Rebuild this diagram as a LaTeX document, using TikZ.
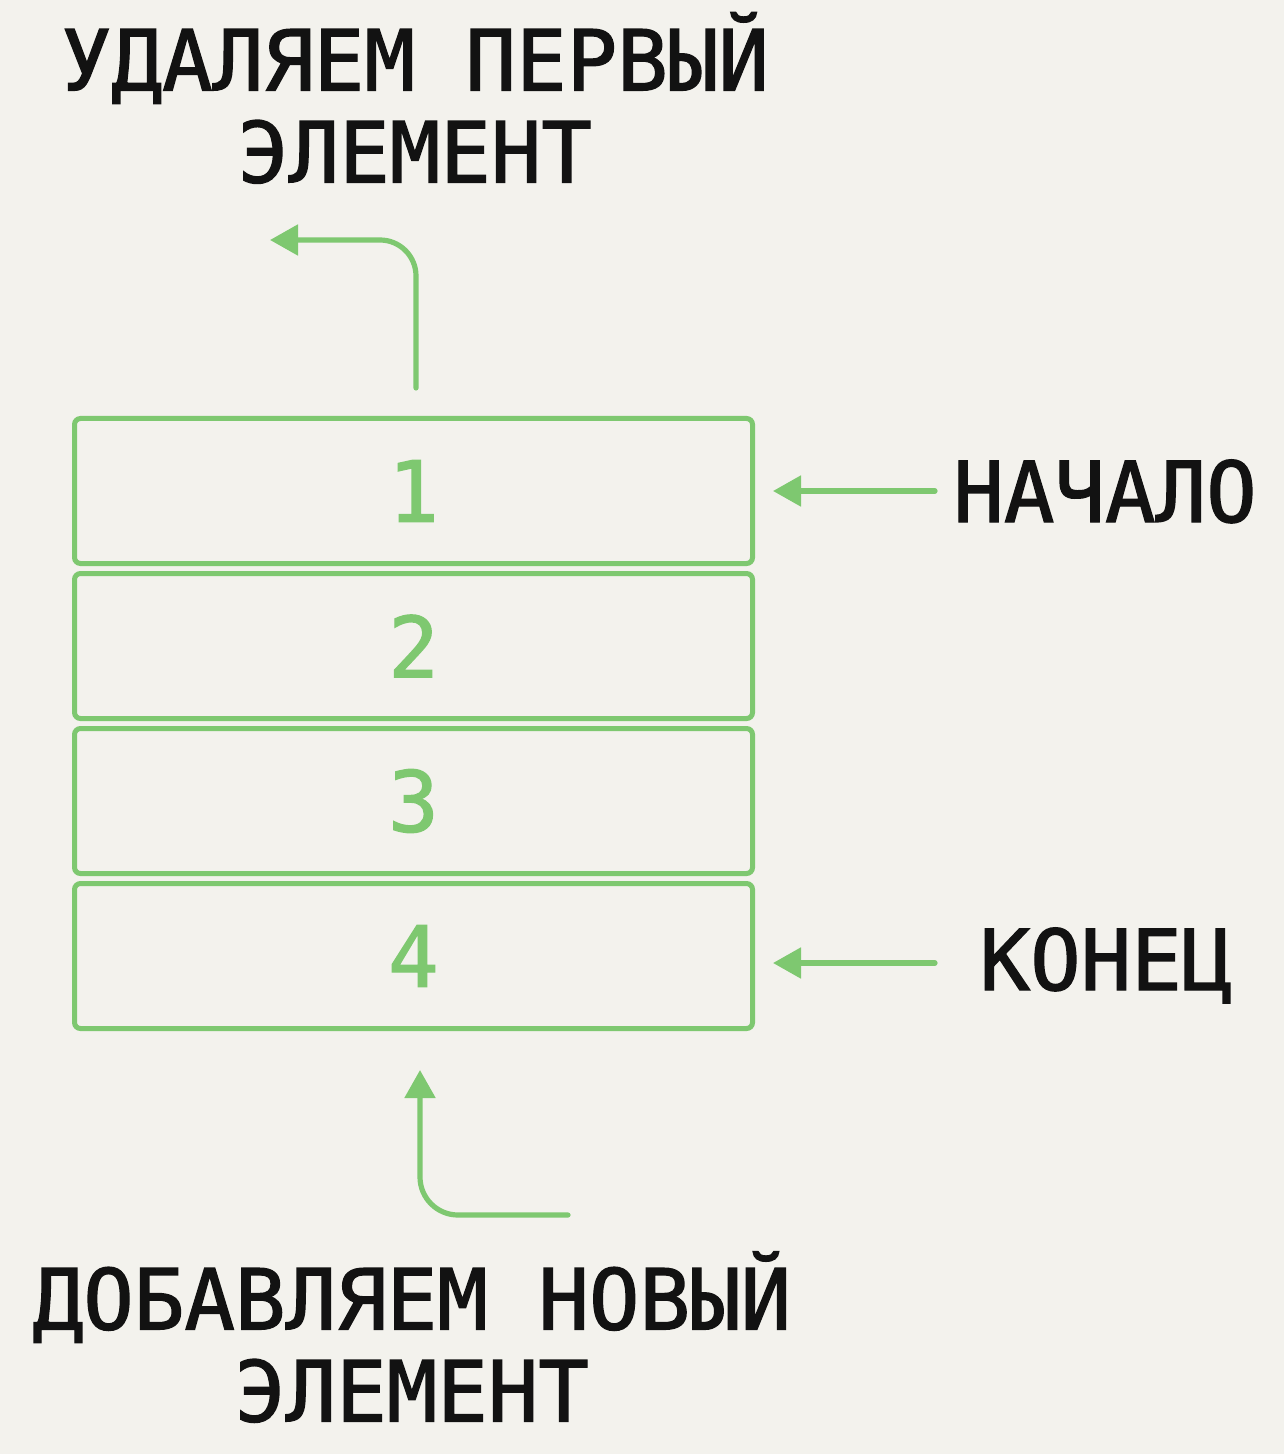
\documentclass[tikz,border=0pt]{standalone}
\usepackage{fontspec}
\newfontfamily\plainmono[FakeBold=1.6]{DejaVu Sans Mono}
\usetikzlibrary{positioning}
\usetikzlibrary{arrows.meta}
\definecolor{qgreen}{RGB}{126,200,112}
\definecolor{paper}{RGB}{243,242,237}
\tikzstyle{cell} = [rectangle, draw=qgreen, line width=2.5pt, rounded corners=3pt,
minimum width=339pt, minimum height=72.5pt, inner sep=0pt, text=qgreen,
font=\fontsize{42}{46}\selectfont\plainmono, node distance=2.5pt]
\tikzstyle{caption} = [font=\fontsize{42}{46}\selectfont\plainmono, text=black!93,
inner sep=0pt, align=center]
\tikzstyle{flow} = [draw=qgreen, line width=2.6pt, line cap=round,
-{Triangle[length=14pt,width=15pt]}]

\begin{document}
\begin{tikzpicture}[x=0.5pt, y=-0.5pt]

  % page with its margins
  \fill[paper] (0,0) rectangle (1284,1454);
  \useasboundingbox (0,0) rectangle (1284,1454);

  % the queue
  \node[cell] (b1) at (413.5,491) {1};
  \node[cell, below=of b1] (b2) {2};
  \node[cell, below=of b2] (b3) {3};
  \node[cell, below=of b3] (b4) {4};

  % captions
  \node[caption] (out) at (415,98) {УДАЛЯЕМ ПЕРВЫЙ\\ЭЛЕМЕНТ}; %
  \node[caption] (in) at (412,1337) {ДОБАВЛЯЕМ НОВЫЙ\\ЭЛЕМЕНТ}; %
  \node[caption, anchor=base] (head) at (1105,522) {НАЧАЛО}; %
  \node[caption, anchor=base] (tail) at (1106,990) {КОНЕЦ}; %

  \coordinate (outtip) at (270,240);
  \coordinate (intail) at (568,1215);

  % arrows
  \draw[flow, rounded corners=18pt] ([xshift=1.25pt,yshift=14pt]b1.north) |- (outtip);
  \draw[flow, rounded corners=19pt] (intail) -| ([xshift=3.25pt,yshift=-19.5pt]b4.south);
  \draw[flow, shorten >=9pt] ([xshift=90pt]b1.east) -- (b1.east);
  \draw[flow, shorten >=9pt] ([xshift=90pt,yshift=-3.5pt]b4.east) -- ([yshift=-3.5pt]b4.east);
\end{tikzpicture}
\end{document}
